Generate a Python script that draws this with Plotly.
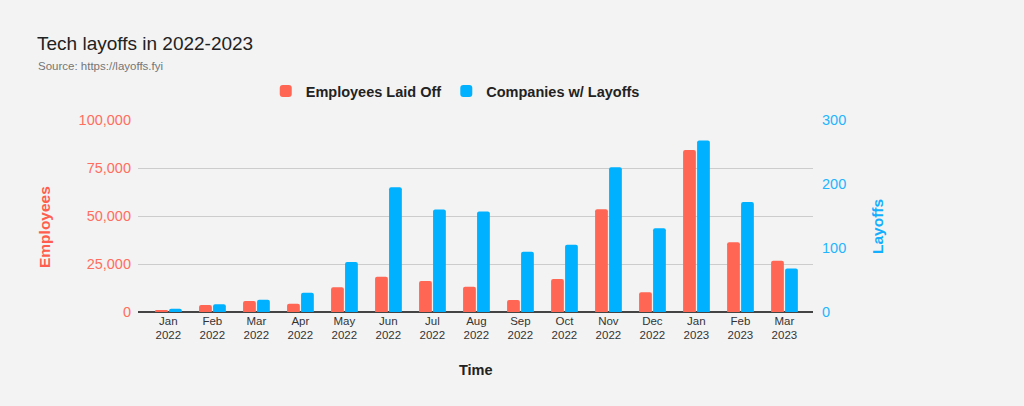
import plotly.graph_objects as go

months = ["Jan<br>2022", "Feb<br>2022", "Mar<br>2022", "Apr<br>2022", "May<br>2022", "Jun<br>2022",
          "Jul<br>2022", "Aug<br>2022", "Sep<br>2022", "Oct<br>2022", "Nov<br>2022", "Dec<br>2022",
          "Jan<br>2023", "Feb<br>2023", "Mar<br>2023"]
employees_laid_off = [900, 3600, 5700, 4300, 12900, 18400, 16150, 13200, 6250, 17200, 53500, 10250, 84400, 36300, 26700]
companies_with_layoffs = [5, 12, 19, 30, 78, 195, 160, 157, 94, 105, 226, 131, 268, 172, 68]

RED = "#FF6654"
BLUE = "#00B1FF"
FONT = "Arial, Liberation Sans, sans-serif"

fig = go.Figure()
fig.add_trace(go.Bar(x=months, y=employees_laid_off, name="Employees Laid Off",
                     marker=dict(color=RED, line=dict(width=0)), width=0.29, offset=-0.302,
                     yaxis="y"))
fig.add_trace(go.Bar(x=months, y=companies_with_layoffs, name="Companies w/ Layoffs",
                     marker=dict(color=BLUE, line=dict(width=0)), width=0.29, offset=0.016,
                     yaxis="y2"))

fig.update_layout(
    width=1024, height=406,
    margin=dict(l=138, r=211, t=120, b=94),
    paper_bgcolor="#F3F3F3", plot_bgcolor="#F3F3F3",
    font=dict(family=FONT, color="#222222"),
    barcornerradius=2,
    showlegend=True,
    legend=dict(orientation="h", x=0.47, xanchor="center", y=1.151, yanchor="middle",
                font=dict(size=14.5, color="#222222", family=FONT, weight="bold"),
                bgcolor="rgba(0,0,0,0)", itemwidth=30, traceorder="normal"),
    xaxis=dict(type="category", range=[-0.69, 14.65], showgrid=False, showline=False,
               ticks="", tickfont=dict(size=11.5, color="#333333"), zeroline=False),
    yaxis=dict(range=[0, 100000], dtick=25000, tickformat=",", showgrid=True,
               gridcolor="#CCCCCC", gridwidth=1, zeroline=True, zerolinecolor="#444444",
               zerolinewidth=1.5, showline=False, ticks="",
               tickfont=dict(size=14.5, color="#FF6E5E"), ticklabelstandoff=6),
    yaxis2=dict(range=[0, 300], dtick=100, overlaying="y", side="right", showgrid=False,
                zeroline=False, showline=False, ticks="",
                tickfont=dict(size=14.5, color="#22B5FF"), ticklabelstandoff=8),
    title=dict(text="Tech layoffs in 2022-2023", x=37/1024, xanchor="left", xref="container",
               y=1-43/406, yanchor="middle", yref="container",
               font=dict(size=19, color="#222222", family=FONT)),
    annotations=[
        dict(text="Source: https://layoffs.fyi", xref="paper", yref="paper",
             x=(35.5-138)/675, y=(312-66)/192, xanchor="left", yanchor="middle",
             showarrow=False, font=dict(size=11.5, color="#757575", family=FONT)),
        dict(text="<b>Employees</b>", xref="paper", yref="paper", textangle=-90,
             x=(44-138)/675, y=(312-227)/192, xanchor="center", yanchor="middle",
             showarrow=False, font=dict(size=15.5, color="#FF5E4E", family=FONT)),
        dict(text="<b>Layoffs</b>", xref="paper", yref="paper", textangle=-90,
             x=(877-138)/675, y=(312-227)/192, xanchor="center", yanchor="middle",
             showarrow=False, font=dict(size=15.5, color="#12AEFF", family=FONT)),
        dict(text="<b>Time</b>", xref="paper", yref="paper",
             x=(476-138)/675, y=(312-370)/192, xanchor="center", yanchor="middle",
             showarrow=False, font=dict(size=14.5, color="#222222", family=FONT)),
    ],
)

fig.write_html("out.html")
